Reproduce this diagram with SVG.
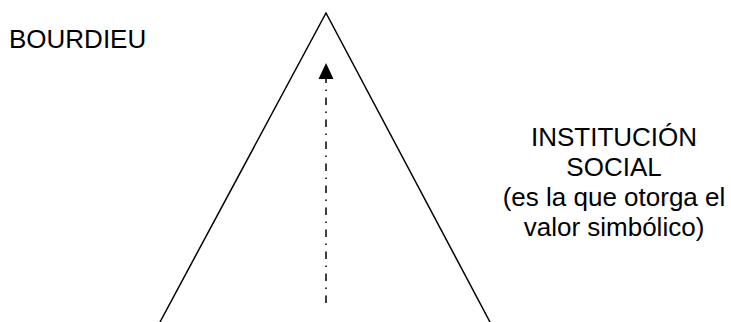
<svg xmlns="http://www.w3.org/2000/svg" width="731" height="322" viewBox="0 0 731 322">
<style>
text{font-family:"Liberation Sans",Arial,sans-serif;font-size:26px;fill:#000}
.c{text-anchor:middle}
</style>
<g id="triangle">
<path d="M160 322 L326 13 L490 322" fill="none" stroke="#000" stroke-width="1.5"/>
</g>
<g id="connectors">
<line x1="326" y1="303" x2="326" y2="79" stroke="#000" stroke-width="1.5" stroke-dasharray="7.5 6.5 1.5 6.5"/>
<path d="M326 63 L333.5 79 L318.5 79 Z" fill="#000"/>
</g>
<g id="bourdieu"><text x="9" y="48">BOURDIEU</text></g>
<g id="institucion">
<text class="c" x="614" y="146">INSTITUCIÓN</text>
<text class="c" x="614" y="176">SOCIAL</text>
<text class="c" x="614" y="206">(es la que otorga el</text>
<text class="c" x="614" y="236">valor simbólico)</text>
</g>
</svg>
